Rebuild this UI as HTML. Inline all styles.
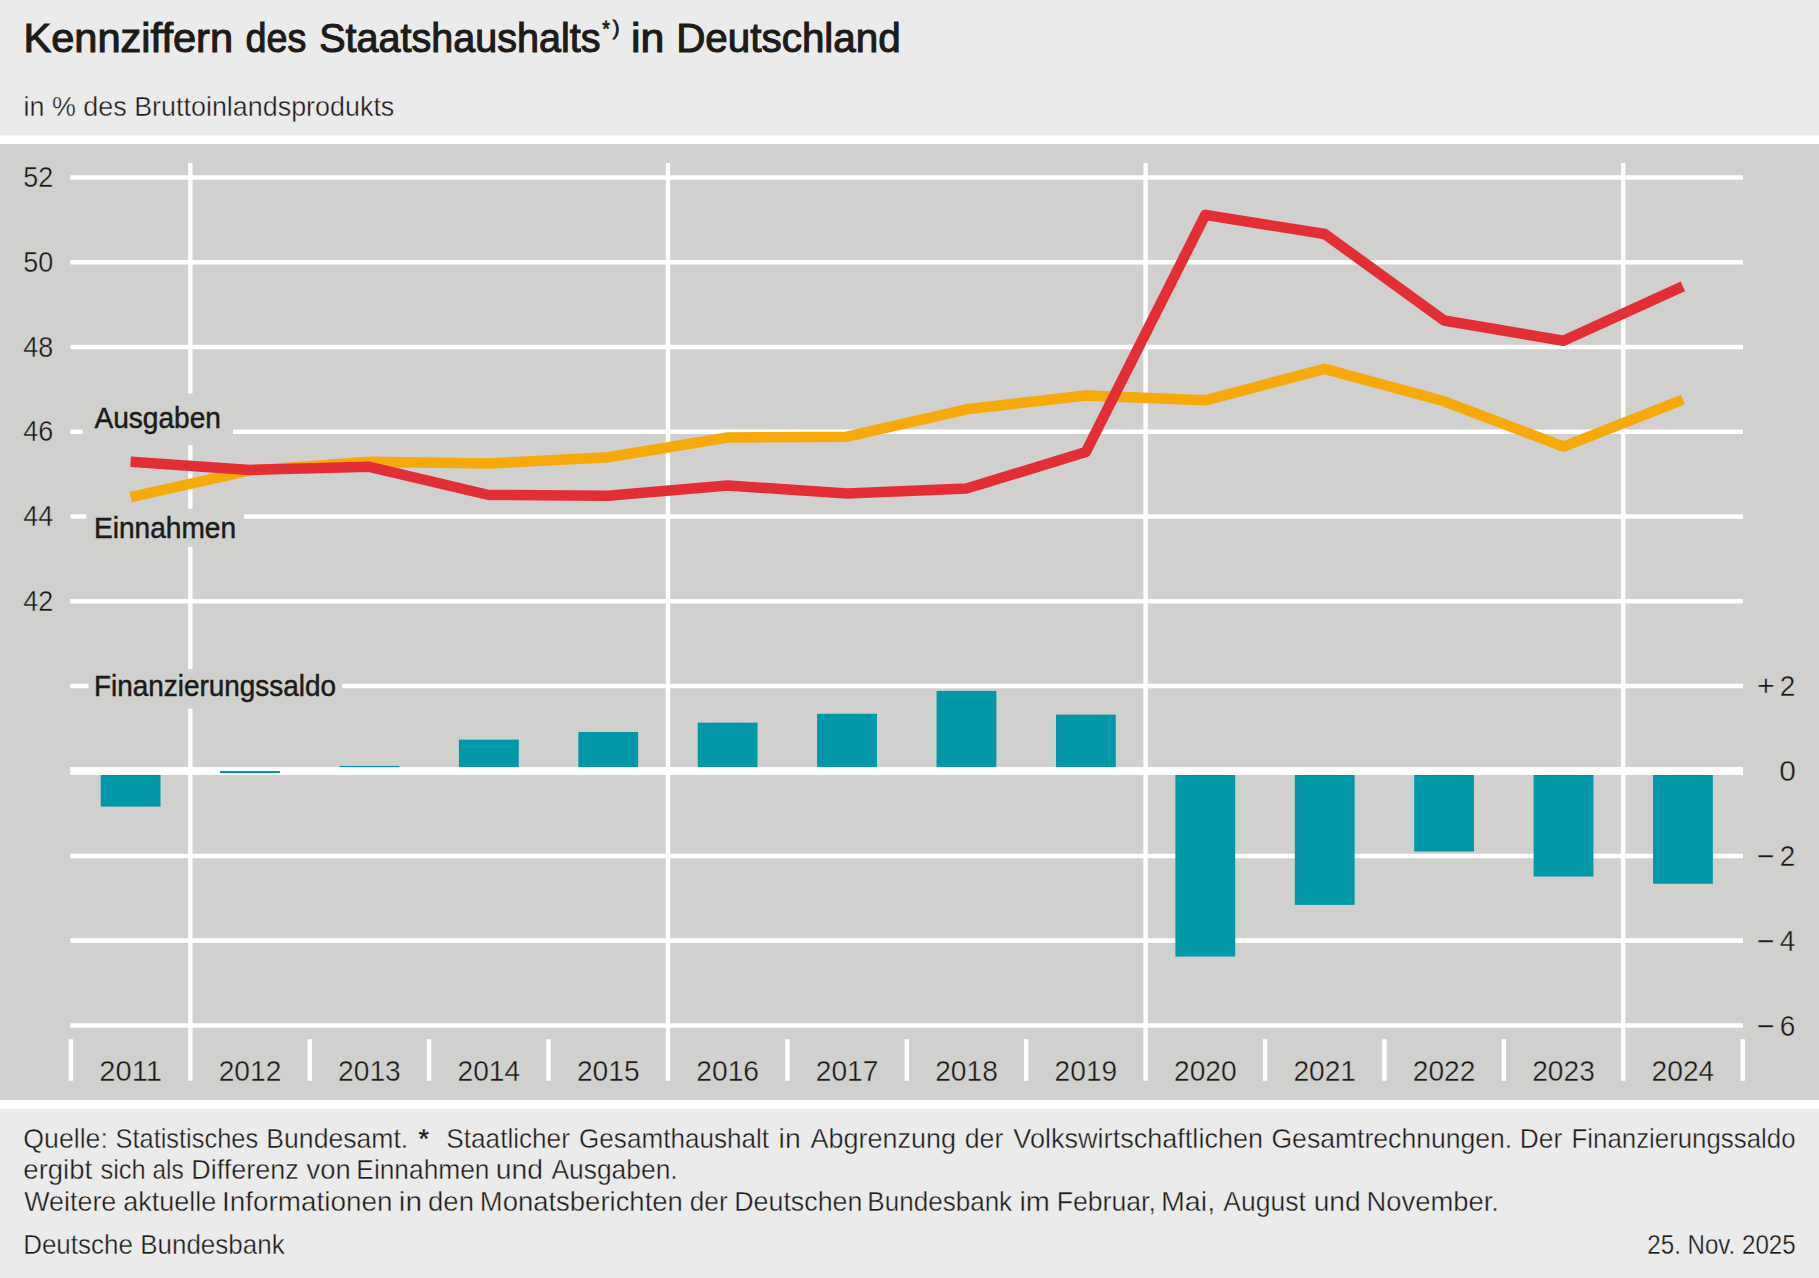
<!DOCTYPE html>
<html lang="de">
<head>
<meta charset="utf-8">
<title>Kennziffern des Staatshaushalts in Deutschland</title>
<style>
html,body{margin:0;padding:0;background:#fff;}
body{width:1819px;height:1278px;overflow:hidden;}
svg{display:block;}
text{font-family:"Liberation Sans", sans-serif;fill:#1d1b19;}
.grid{stroke:#fff;stroke-width:4.7;fill:none;}
.vl{stroke:#fff;stroke-width:4.4;fill:none;}
.bar{fill:#0097a7;}
.halo{fill:#d0d0ce;}
.ax{font-size:29px;stroke:#d0d0ce;stroke-width:0.38px;}
.lab{font-size:29px;stroke:#1d1b19;stroke-width:0.5px;}
.ft{font-size:28px;stroke:#ebebeb;stroke-width:0.38px;}
.dt{font-size:27px;stroke:#ebebeb;stroke-width:0.3px;}
.sub{font-size:27.5px;stroke:#ebebeb;stroke-width:0.38px;}
.ttl{font-size:41px;stroke:#1d1b19;stroke-width:1.1px;}
.sup{font-size:27px;stroke:#1d1b19;stroke-width:0.8px;}
</style>
</head>
<body>
<svg width="1819" height="1278" viewBox="0 0 1819 1278">
<rect x="0" y="0" width="1819" height="1278" fill="#ffffff"/>
<rect x="0" y="0" width="1819" height="135.5" fill="#ebebeb"/>
<rect x="0" y="144" width="1819" height="956" fill="#d0d0ce"/>
<rect x="0" y="1108.5" width="1819" height="169.5" fill="#ebebeb"/>

<g class="grid">
<line x1="70.3" y1="177.5" x2="1743" y2="177.5"/>
<line x1="70.3" y1="262.25" x2="1743" y2="262.25"/>
<line x1="70.3" y1="347.0" x2="1743" y2="347.0"/>
<line x1="70.3" y1="431.75" x2="1743" y2="431.75"/>
<line x1="70.3" y1="516.5" x2="1743" y2="516.5"/>
<line x1="70.3" y1="601.25" x2="1743" y2="601.25"/>
<line x1="70.3" y1="686.0" x2="1743" y2="686.0"/>
<line x1="70.3" y1="856.0" x2="1743" y2="856.0"/>
<line x1="70.3" y1="940.6" x2="1743" y2="940.6"/>
<line x1="70.3" y1="1025.5" x2="1743" y2="1025.5"/>
</g>
<g class="vl">
<line x1="190.31" y1="163" x2="190.31" y2="1080.8"/>
<line x1="667.95" y1="163" x2="667.95" y2="1080.8"/>
<line x1="1145.59" y1="163" x2="1145.59" y2="1080.8"/>
<line x1="1623.23" y1="163" x2="1623.23" y2="1080.8"/>
<line x1="70.90" y1="1039.2" x2="70.90" y2="1080.8"/>
<line x1="309.72" y1="1039.2" x2="309.72" y2="1080.8"/>
<line x1="429.13" y1="1039.2" x2="429.13" y2="1080.8"/>
<line x1="548.54" y1="1039.2" x2="548.54" y2="1080.8"/>
<line x1="787.36" y1="1039.2" x2="787.36" y2="1080.8"/>
<line x1="906.77" y1="1039.2" x2="906.77" y2="1080.8"/>
<line x1="1026.18" y1="1039.2" x2="1026.18" y2="1080.8"/>
<line x1="1265.00" y1="1039.2" x2="1265.00" y2="1080.8"/>
<line x1="1384.41" y1="1039.2" x2="1384.41" y2="1080.8"/>
<line x1="1503.82" y1="1039.2" x2="1503.82" y2="1080.8"/>
<line x1="1742.64" y1="1039.2" x2="1742.64" y2="1080.8"/>
</g>
<g class="bar">
<rect x="100.71" y="771.00" width="59.8" height="35.60"/>
<rect x="339.52" y="765.91" width="59.8" height="5.09"/>
<rect x="458.94" y="739.64" width="59.8" height="31.36"/>
<rect x="578.35" y="732.01" width="59.8" height="38.99"/>
<rect x="697.75" y="722.69" width="59.8" height="48.31"/>
<rect x="817.16" y="713.79" width="59.8" height="57.21"/>
<rect x="936.57" y="690.91" width="59.8" height="80.09"/>
<rect x="1055.98" y="714.64" width="59.8" height="56.36"/>
<rect x="1175.39" y="771.00" width="59.8" height="185.60"/>
<rect x="1294.81" y="771.00" width="59.8" height="133.90"/>
<rect x="1414.21" y="771.00" width="59.8" height="80.51"/>
<rect x="1533.62" y="771.00" width="59.8" height="105.51"/>
<rect x="1653.03" y="771.00" width="59.8" height="112.72"/>
</g>
<line x1="70.3" y1="771.0" x2="1743" y2="771.0" stroke="#fff" stroke-width="8"/>
<rect class="bar" x="220.12" y="771.0" width="59.8" height="2.1"/>
<rect class="halo" x="82.8" y="393.5" width="150.1" height="51.6"/>
<rect class="halo" x="86.1" y="508.6" width="157.8" height="38.3"/>
<rect class="halo" x="88.5" y="669" width="253.5" height="39.6"/>
<polyline points="130.6,497.2 250.0,470.5 369.4,461.8 488.8,463.6 608.2,457.2 727.7,437.5 847.1,436.7 966.5,409.3 1085.9,395.5 1205.3,400.3 1324.7,368.9 1444.1,401.3 1563.5,446.7 1682.9,399.6" fill="none" stroke="#f5a90a" stroke-width="10.5" stroke-linejoin="round" stroke-linecap="butt"/>
<polyline points="130.6,461.8 250.0,469.9 369.4,466.8 488.8,495.0 608.2,495.7 727.7,485.5 847.1,493.4 966.5,488.6 1085.9,451.9 1205.3,214.9 1324.7,234.0 1444.1,320.5 1563.5,340.8 1682.9,286.4" fill="none" stroke="#e22e35" stroke-width="10.5" stroke-linejoin="round" stroke-linecap="butt"/>
<text class="ttl"><tspan x="23.45" y="52.0" textLength="209.62" lengthAdjust="spacingAndGlyphs">Kennziffern</tspan> <tspan x="245.60" y="52.0" textLength="60.80" lengthAdjust="spacingAndGlyphs">des</tspan> <tspan x="319.25" y="52.0" textLength="281.27" lengthAdjust="spacingAndGlyphs">Staatshaushalts</tspan><tspan x="602.30" y="36.0" textLength="7.50" lengthAdjust="spacingAndGlyphs" style="font-size:22px;stroke-width:0.8px">*</tspan><tspan x="612.80" y="34.5" textLength="6.78" lengthAdjust="spacingAndGlyphs" style="font-size:20px;stroke-width:0.8px">)</tspan> <tspan x="630.95" y="52.0" textLength="33.40" lengthAdjust="spacingAndGlyphs">in</tspan> <tspan x="676.15" y="52.0" textLength="224.60" lengthAdjust="spacingAndGlyphs">Deutschland</tspan></text>
<text class="sub" x="23.55" y="116.3" textLength="370.77" lengthAdjust="spacingAndGlyphs">in % des Bruttoinlandsprodukts</text>
<text class="ax" x="23.15" y="187.2" textLength="29.98" lengthAdjust="spacingAndGlyphs">52</text>
<text class="ax" x="23.15" y="271.95" textLength="29.98" lengthAdjust="spacingAndGlyphs">50</text>
<text class="ax" x="23.15" y="356.7" textLength="29.98" lengthAdjust="spacingAndGlyphs">48</text>
<text class="ax" x="23.15" y="441.45" textLength="29.98" lengthAdjust="spacingAndGlyphs">46</text>
<text class="ax" x="23.15" y="526.2" textLength="29.98" lengthAdjust="spacingAndGlyphs">44</text>
<text class="ax" x="23.15" y="610.95" textLength="29.98" lengthAdjust="spacingAndGlyphs">42</text>
<text class="ax" y="696.2"><tspan x="1757.00" textLength="17.76" lengthAdjust="spacingAndGlyphs">+</tspan> <tspan x="1779.70" textLength="15.55" lengthAdjust="spacingAndGlyphs">2</tspan></text>
<text class="ax" x="1779.25" y="781.3" textLength="16.63" lengthAdjust="spacingAndGlyphs">0</text>
<text class="ax" y="866.3"><tspan x="1757.00" textLength="17.76" lengthAdjust="spacingAndGlyphs">−</tspan> <tspan x="1779.70" textLength="15.55" lengthAdjust="spacingAndGlyphs">2</tspan></text>
<text class="ax" y="950.9"><tspan x="1757.00" textLength="17.76" lengthAdjust="spacingAndGlyphs">−</tspan> <tspan x="1779.70" textLength="15.55" lengthAdjust="spacingAndGlyphs">4</tspan></text>
<text class="ax" y="1035.8"><tspan x="1757.00" textLength="17.76" lengthAdjust="spacingAndGlyphs">−</tspan> <tspan x="1779.70" textLength="15.55" lengthAdjust="spacingAndGlyphs">6</tspan></text>
<text class="ax" x="99.29" y="1080.7" textLength="62.63" lengthAdjust="spacingAndGlyphs">2011</text>
<text class="ax" x="218.70" y="1080.7" textLength="62.63" lengthAdjust="spacingAndGlyphs">2012</text>
<text class="ax" x="338.11" y="1080.7" textLength="62.63" lengthAdjust="spacingAndGlyphs">2013</text>
<text class="ax" x="457.52" y="1080.7" textLength="62.63" lengthAdjust="spacingAndGlyphs">2014</text>
<text class="ax" x="576.93" y="1080.7" textLength="62.63" lengthAdjust="spacingAndGlyphs">2015</text>
<text class="ax" x="696.34" y="1080.7" textLength="62.63" lengthAdjust="spacingAndGlyphs">2016</text>
<text class="ax" x="815.75" y="1080.7" textLength="62.63" lengthAdjust="spacingAndGlyphs">2017</text>
<text class="ax" x="935.16" y="1080.7" textLength="62.63" lengthAdjust="spacingAndGlyphs">2018</text>
<text class="ax" x="1054.57" y="1080.7" textLength="62.63" lengthAdjust="spacingAndGlyphs">2019</text>
<text class="ax" x="1173.98" y="1080.7" textLength="62.63" lengthAdjust="spacingAndGlyphs">2020</text>
<text class="ax" x="1293.39" y="1080.7" textLength="62.63" lengthAdjust="spacingAndGlyphs">2021</text>
<text class="ax" x="1412.80" y="1080.7" textLength="62.63" lengthAdjust="spacingAndGlyphs">2022</text>
<text class="ax" x="1532.21" y="1080.7" textLength="62.63" lengthAdjust="spacingAndGlyphs">2023</text>
<text class="ax" x="1651.62" y="1080.7" textLength="62.63" lengthAdjust="spacingAndGlyphs">2024</text>
<text class="lab" x="94.45" y="427.7" textLength="126.51" lengthAdjust="spacingAndGlyphs">Ausgaben</text>
<text class="lab" x="94.00" y="538.2" textLength="142.09" lengthAdjust="spacingAndGlyphs">Einnahmen</text>
<text class="lab" x="94.00" y="696.2" textLength="242.04" lengthAdjust="spacingAndGlyphs">Finanzierungssaldo</text>
<text class="ft"><tspan x="23.25" y="1148" textLength="84.66" lengthAdjust="spacingAndGlyphs">Quelle:</tspan> <tspan x="115.55" y="1148" textLength="142.53" lengthAdjust="spacingAndGlyphs">Statistisches</tspan> <tspan x="266.35" y="1148" textLength="141.89" lengthAdjust="spacingAndGlyphs">Bundesamt.</tspan> <tspan x="418.50" y="1148" textLength="10.50" lengthAdjust="spacingAndGlyphs" style="font-weight:bold">*</tspan> <tspan x="446.35" y="1148" textLength="123.53" lengthAdjust="spacingAndGlyphs">Staatlicher</tspan> <tspan x="579.05" y="1148" textLength="190.01" lengthAdjust="spacingAndGlyphs">Gesamthaushalt</tspan> <tspan x="778.60" y="1148" textLength="22.15" lengthAdjust="spacingAndGlyphs">in</tspan> <tspan x="810.60" y="1148" textLength="145.52" lengthAdjust="spacingAndGlyphs">Abgrenzung</tspan> <tspan x="964.75" y="1148" textLength="38.56" lengthAdjust="spacingAndGlyphs">der</tspan> <tspan x="1013.35" y="1148" textLength="249.77" lengthAdjust="spacingAndGlyphs">Volkswirtschaftlichen</tspan> <tspan x="1271.45" y="1148" textLength="240.81" lengthAdjust="spacingAndGlyphs">Gesamtrechnungen.</tspan> <tspan x="1519.85" y="1148" textLength="42.42" lengthAdjust="spacingAndGlyphs">Der</tspan> <tspan x="1571.50" y="1148" textLength="224.04" lengthAdjust="spacingAndGlyphs">Finanzierungssaldo</tspan></text>
<text class="ft"><tspan x="23.35" y="1179.2" textLength="68.78" lengthAdjust="spacingAndGlyphs">ergibt</tspan> <tspan x="100.45" y="1179.2" textLength="45.37" lengthAdjust="spacingAndGlyphs">sich</tspan> <tspan x="152.50" y="1179.2" textLength="31.13" lengthAdjust="spacingAndGlyphs">als</tspan> <tspan x="191.25" y="1179.2" textLength="107.37" lengthAdjust="spacingAndGlyphs">Differenz</tspan> <tspan x="306.55" y="1179.2" textLength="44.09" lengthAdjust="spacingAndGlyphs">von</tspan> <tspan x="356.35" y="1179.2" textLength="133.11" lengthAdjust="spacingAndGlyphs">Einnahmen</tspan> <tspan x="495.85" y="1179.2" textLength="47.28" lengthAdjust="spacingAndGlyphs">und</tspan> <tspan x="551.40" y="1179.2" textLength="126.30" lengthAdjust="spacingAndGlyphs">Ausgaben.</tspan></text>
<text class="ft"><tspan x="24.25" y="1210.7" textLength="92.02" lengthAdjust="spacingAndGlyphs">Weitere</tspan> <tspan x="123.15" y="1210.7" textLength="93.06" lengthAdjust="spacingAndGlyphs">aktuelle</tspan> <tspan x="222.10" y="1210.7" textLength="170.36" lengthAdjust="spacingAndGlyphs">Informationen</tspan> <tspan x="398.80" y="1210.7" textLength="23.23" lengthAdjust="spacingAndGlyphs">in</tspan> <tspan x="428.05" y="1210.7" textLength="45.94" lengthAdjust="spacingAndGlyphs">den</tspan> <tspan x="479.75" y="1210.7" textLength="203.08" lengthAdjust="spacingAndGlyphs">Monatsberichten</tspan> <tspan x="689.80" y="1210.7" textLength="37.80" lengthAdjust="spacingAndGlyphs">der</tspan> <tspan x="734.25" y="1210.7" textLength="128.13" lengthAdjust="spacingAndGlyphs">Deutschen</tspan> <tspan x="867.35" y="1210.7" textLength="144.79" lengthAdjust="spacingAndGlyphs">Bundesbank</tspan> <tspan x="1019.40" y="1210.7" textLength="30.49" lengthAdjust="spacingAndGlyphs">im</tspan> <tspan x="1056.65" y="1210.7" textLength="99.21" lengthAdjust="spacingAndGlyphs">Februar,</tspan> <tspan x="1160.95" y="1210.7" textLength="54.20" lengthAdjust="spacingAndGlyphs">Mai,</tspan> <tspan x="1223.30" y="1210.7" textLength="82.50" lengthAdjust="spacingAndGlyphs">August</tspan> <tspan x="1313.65" y="1210.7" textLength="47.04" lengthAdjust="spacingAndGlyphs">und</tspan> <tspan x="1366.55" y="1210.7" textLength="132.42" lengthAdjust="spacingAndGlyphs">November.</tspan></text>
<text class="ft" x="23.15" y="1254.2" textLength="261.52" lengthAdjust="spacingAndGlyphs">Deutsche Bundesbank</text>
<text class="dt" x="1647.35" y="1254.2" textLength="148.29" lengthAdjust="spacingAndGlyphs">25. Nov. 2025</text>
</svg>
</body>
</html>
